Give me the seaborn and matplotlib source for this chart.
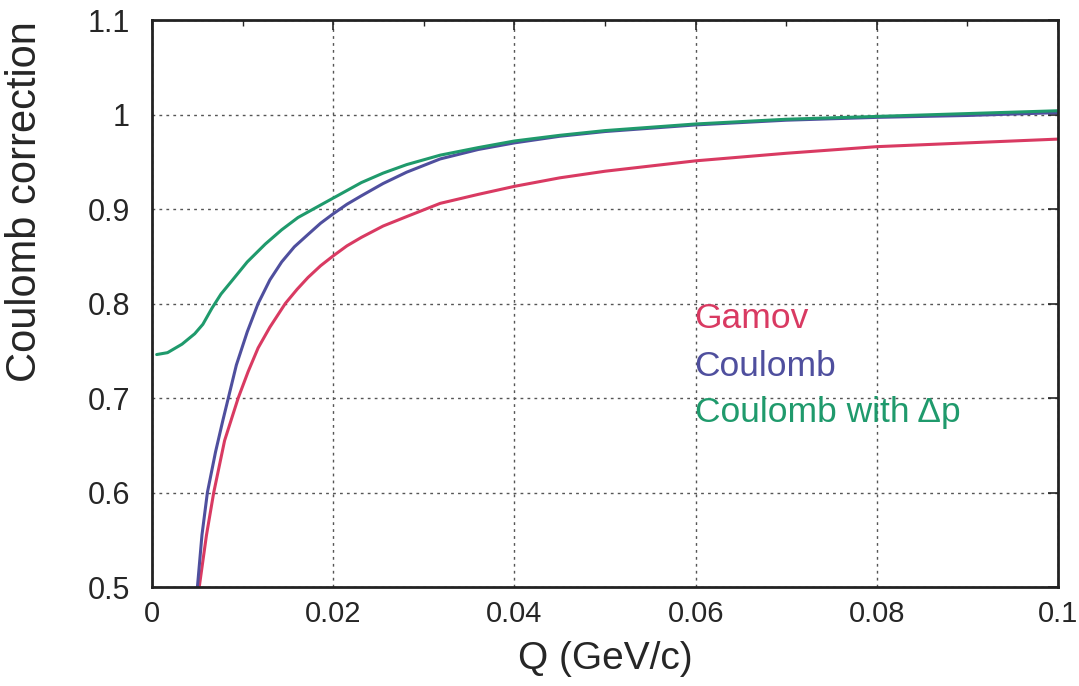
import numpy as np
import pandas as pd
import matplotlib.pyplot as plt
import seaborn as sns
from matplotlib.ticker import MultipleLocator

# values
q_gamov = [0.0052, 0.0060, 0.0068, 0.0080, 0.0087, 0.0095, 0.0106, 0.0117, 0.0130, 0.0147,
           0.0160, 0.0172, 0.0186, 0.0200, 0.0215, 0.0231, 0.0255, 0.0281, 0.0318, 0.0360,
           0.0400, 0.0450, 0.0500, 0.0600, 0.0700, 0.0800, 0.0900, 0.1000]
c_gamov = [0.500, 0.555, 0.600, 0.655, 0.676, 0.700, 0.728, 0.753, 0.775, 0.800,
           0.815, 0.8275, 0.840, 0.8505, 0.861, 0.870, 0.882, 0.892, 0.906, 0.9155,
           0.924, 0.933, 0.940, 0.951, 0.959, 0.966, 0.970, 0.974]

q_coul = [0.0050, 0.0055, 0.0061, 0.0070, 0.0078, 0.0093, 0.0105, 0.0117, 0.0130, 0.0143,
          0.0157, 0.0172, 0.0186, 0.0200, 0.0215, 0.0231, 0.0255, 0.0281, 0.0318, 0.0360,
          0.0400, 0.0450, 0.0500, 0.0600, 0.0700, 0.0800, 0.0900, 0.1000]
c_coul = [0.500, 0.555, 0.600, 0.643, 0.676, 0.735, 0.770, 0.800, 0.825, 0.844,
          0.860, 0.873, 0.885, 0.895, 0.905, 0.914, 0.927, 0.939, 0.953, 0.963,
          0.970, 0.977, 0.982, 0.989, 0.994, 0.997, 0.999, 1.002]

q_dp = [0.0005, 0.0017, 0.0033, 0.0047, 0.0056, 0.0066, 0.0076, 0.0088, 0.0105, 0.0125,
        0.0143, 0.0161, 0.0178, 0.0195, 0.0231, 0.0255, 0.0281, 0.0318, 0.0360, 0.0400,
        0.0450, 0.0500, 0.0600, 0.0700, 0.0800, 0.0900, 0.1000]
c_dp = [0.746, 0.748, 0.757, 0.768, 0.778, 0.795, 0.810, 0.824, 0.844, 0.863,
        0.878, 0.891, 0.900, 0.909, 0.928, 0.938, 0.947, 0.957, 0.965, 0.972,
        0.978, 0.983, 0.990, 0.995, 0.998, 1.001, 1.004]

labels = ['Gamov', 'Coulomb', 'Coulomb with Δp']
colors = ['#d93a62', '#4f4f9e', '#1f9a6c']

x_ticks = [0, 0.02, 0.04, 0.06, 0.08, 0.1]
x_tick_labels = ['0', '0.02', '0.04', '0.06', '0.08', '0.1']
y_ticks = [0.5, 0.6, 0.7, 0.8, 0.9, 1.0, 1.1]
y_tick_labels = ['0.5', '0.6', '0.7', '0.8', '0.9', '1', '1.1']

df = pd.concat([
    pd.DataFrame({'Q': q_gamov, 'C': c_gamov, 'kind': labels[0]}),
    pd.DataFrame({'Q': q_coul, 'C': c_coul, 'kind': labels[1]}),
    pd.DataFrame({'Q': q_dp, 'C': c_dp, 'kind': labels[2]}),
])

sns.set_style('white')
plt.rcParams['font.family'] = ['Liberation Sans', 'DejaVu Sans']

fig = plt.figure(figsize=(10.79, 6.86), dpi=100)
ax = fig.add_axes([0.141, 0.1443, 0.8395, 0.8265])

ax.grid(True, which='major', color='#555555', linestyle=(0, (2, 3)), linewidth=1.0)
ax.set_axisbelow(True)

sns.lineplot(data=df, x='Q', y='C', hue='kind', palette=dict(zip(labels, colors)),
             linewidth=2.2, legend=False, ax=ax)

ax.set_xlim(0, 0.1)
ax.set_ylim(0.5, 1.1)
ax.set_xticks(x_ticks)
ax.set_xticklabels(x_tick_labels)
ax.set_yticks(y_ticks)
ax.set_yticklabels(y_tick_labels)
ax.xaxis.set_minor_locator(MultipleLocator(0.01))

ax.tick_params(which='major', direction='in', length=7, width=1.2, top=True, right=True)
ax.tick_params(which='minor', direction='in', length=4, width=1.0, top=True)
ax.tick_params(axis='y', pad=16, labelsize=22)
ax.tick_params(axis='x', pad=9, labelsize=21)

for s in ax.spines.values():
    s.set_color('#222222')
    s.set_linewidth(2)

ax.set_xlabel('Q (GeV/c)', fontsize=28)
ax.set_ylabel('Coulomb correction', fontsize=30)
ax.xaxis.set_label_coords(0.5, -0.095, transform=ax.transAxes)
ax.yaxis.set_label_coords(-0.118, 0.679, transform=ax.transAxes)

for lab, col, yy in zip(labels, colors, [0.774, 0.723, 0.675]):
    ax.text(0.0599, yy, lab, color=col, fontsize=25.5, va='baseline', ha='left')

fig.savefig('out.png', dpi=100)
